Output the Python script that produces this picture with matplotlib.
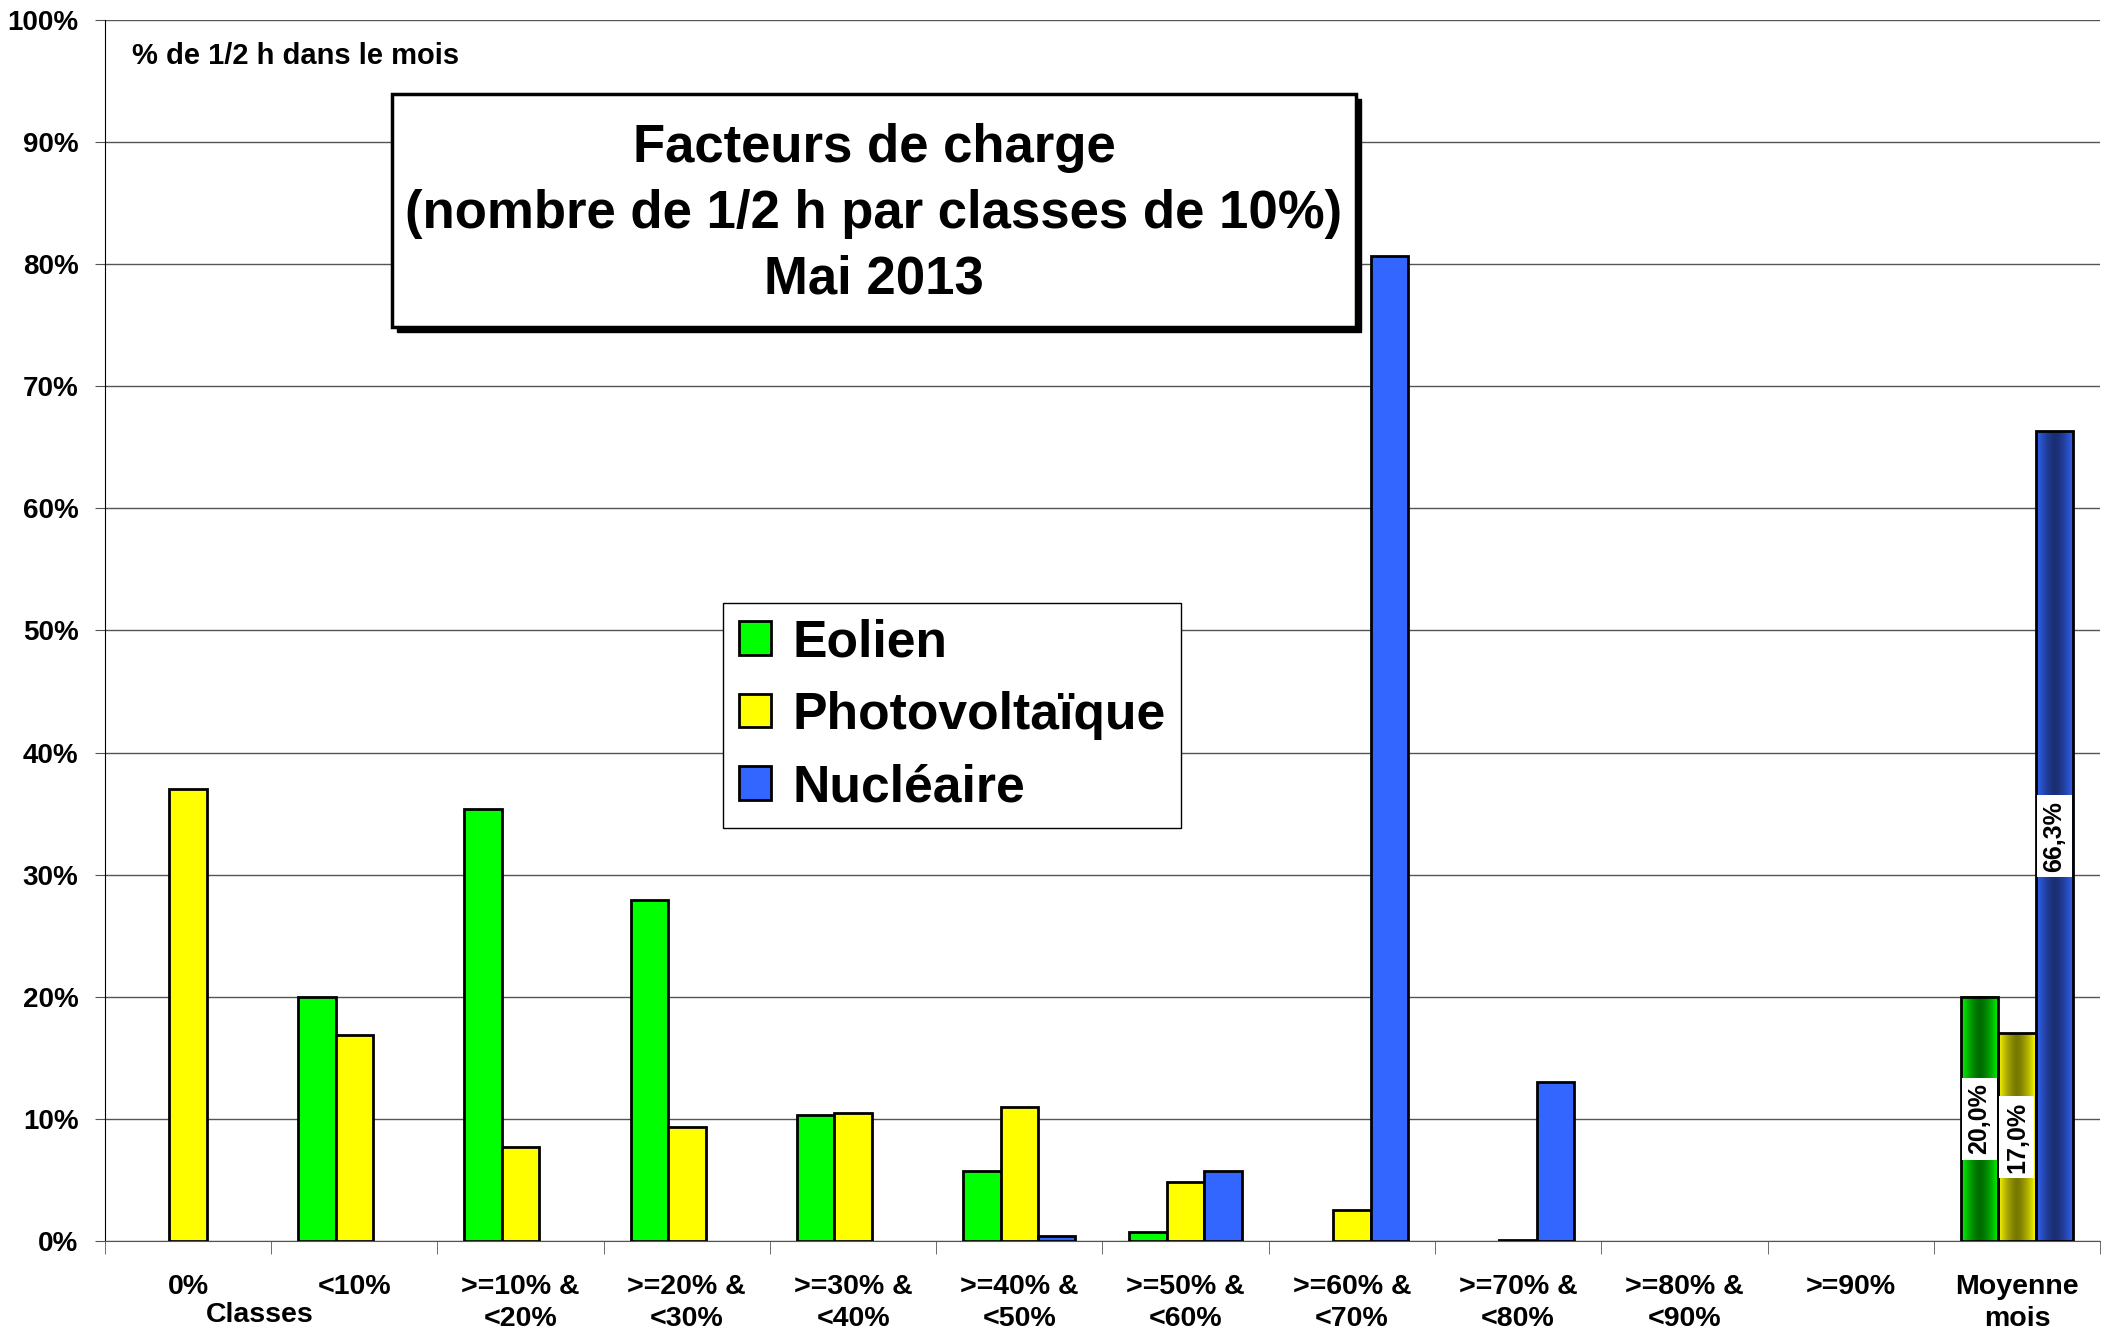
import numpy as np
import matplotlib
matplotlib.use("Agg")
import matplotlib.pyplot as plt
from matplotlib.patches import Rectangle

# données (en % de 1/2 h dans le mois)
classes = ["0%", "<10%", ">=10% &\n<20%", ">=20% &\n<30%", ">=30% &\n<40%",
           ">=40% &\n<50%", ">=50% &\n<60%", ">=60% &\n<70%", ">=70% &\n<80%",
           ">=80% &\n<90%", ">=90%", "Moyenne\nmois"]
eolien = [0, 20.0, 35.4, 27.9, 10.3, 5.7, 0.7, 0, 0, 0, 0, 20.0]
photovoltaique = [37.0, 16.9, 7.7, 9.3, 10.5, 11.0, 4.8, 2.5, 0.1, 0, 0, 17.0]
nucleaire = [0, 0, 0, 0, 0, 0.4, 5.7, 80.7, 13.0, 0, 0, 66.3]
noms = ["Eolien", "Photovoltaïque", "Nucléaire"]
yticks = list(range(0, 101, 10))

plt.rcParams['font.family'] = ['Liberation Sans', 'DejaVu Sans']
plt.rcParams['font.weight'] = 'bold'

fig = plt.figure(figsize=(21.11, 13.42), dpi=100)
ax = fig.add_axes([0.0497, 0.0753, 0.9451, 0.9098])

x = np.arange(len(classes))
w = 0.225
couleurs = ['#00FF00', '#FFFF00', '#3366FF']
clair = [(0, 1, 0), (1, 1, 0), (0.2, 0.4, 1.0)]
fonce = [(0, 0.42, 0), (0.47, 0.47, 0), (0.1, 0.18, 0.45)]

handles = []
for i, vals in enumerate([eolien, photovoltaique, nucleaire]):
    off = (i - 1) * w
    vals = np.array(vals, dtype=float)
    idx = [j for j in range(len(vals) - 1) if vals[j] > 0]
    b = ax.bar(x[idx] + off, vals[idx], w, color=couleurs[i], edgecolor='black',
               linewidth=2, label=noms[i], zorder=3)
    handles.append(b)

    # moyenne du mois : remplissage en dégradé
    xm = x[-1] + off
    v = vals[-1]
    t = np.linspace(0, 1, 200)
    k = 1 - np.abs(2 * t - 1) ** 1.5
    c0 = np.array(clair[i])
    c1 = np.array(fonce[i])
    grad = (c0[None, :] * (1 - k[:, None]) + c1[None, :] * k[:, None])[None, :, :]
    ax.imshow(grad, extent=[xm - w / 2, xm + w / 2, 0, v], aspect='auto',
              interpolation='bilinear', zorder=3)
    ax.bar(xm, v, w, fill=False, edgecolor='black', linewidth=2, zorder=4)
    ax.text(xm, v / 2, f"{v:.1f}%".replace('.', ','), rotation=90,
            ha='center', va='center', fontsize=18, fontweight='bold', zorder=5,
            bbox=dict(facecolor='white', edgecolor='none', pad=4))

ax.set_xlim(-0.5, len(classes) - 0.5)
ax.set_ylim(0, 100)
ax.set_aspect('auto')

ax.set_yticks(yticks)
ax.set_yticklabels([f"{t}%" for t in yticks])
ax.tick_params(axis='y', labelsize=20, length=7, pad=12, color='#555555')
ax.yaxis.grid(True, color='#555555', linewidth=1)
ax.set_axisbelow(True)

ax.set_xticks(x)
ax.set_xticklabels(classes, linespacing=1.3)
ax.set_xticks(np.arange(-0.5, len(classes), 1), minor=True)
ax.tick_params(axis='x', which='major', length=0, labelsize=20.5, pad=24)
ax.tick_params(axis='x', which='minor', length=9, color='#555555', direction='out')

for s in ['top', 'right']:
    ax.spines[s].set_visible(False)
ax.spines['left'].set_color('black')
ax.spines['bottom'].set_color('#555555')

leg = ax.legend(handles=handles, loc='upper left', bbox_to_anchor=(0.310, 0.5225),
                fontsize=37.2, frameon=True, fancybox=False, edgecolor='black',
                framealpha=1, handlelength=0.63, handleheight=0.63,
                handletextpad=0.4, labelspacing=0.45, borderpad=0.3,
                borderaxespad=0)
leg.get_frame().set_linewidth(1)

# textes annexes
fig.text(132 / 2111, 1 - 56 / 1342, "% de 1/2 h dans le mois", fontsize=21,
         fontweight='bold', va='center', ha='left')
fig.text(260 / 2111, 1 - 1315 / 1342, "Classes", fontsize=20.5,
         fontweight='bold', va='center', ha='center')

# cadre du titre avec ombre
x0, x1 = 392 / 2111, 1356 / 2111
y0, y1 = 1 - 327 / 1342, 1 - 94 / 1342
dx, dy = 5 / 2111, 5 / 1342
fig.add_artist(Rectangle((x0 + dx, y0 - dy), x1 - x0, y1 - y0, transform=fig.transFigure,
                         facecolor='black', edgecolor='black', zorder=5))
fig.add_artist(Rectangle((x0, y0), x1 - x0, y1 - y0, transform=fig.transFigure,
                         facecolor='white', edgecolor='black', linewidth=2.5, zorder=6))
titre = ["Facteurs de charge", "(nombre de 1/2 h par classes de 10%)", "Mai 2013"]
for ligne, yl in zip(titre, [148, 214, 279]):
    fig.text((x0 + x1) / 2, 1 - yl / 1342, ligne, fontsize=38, fontweight='bold',
             ha='center', va='center', zorder=7)

fig.savefig("out.png", dpi=100)
